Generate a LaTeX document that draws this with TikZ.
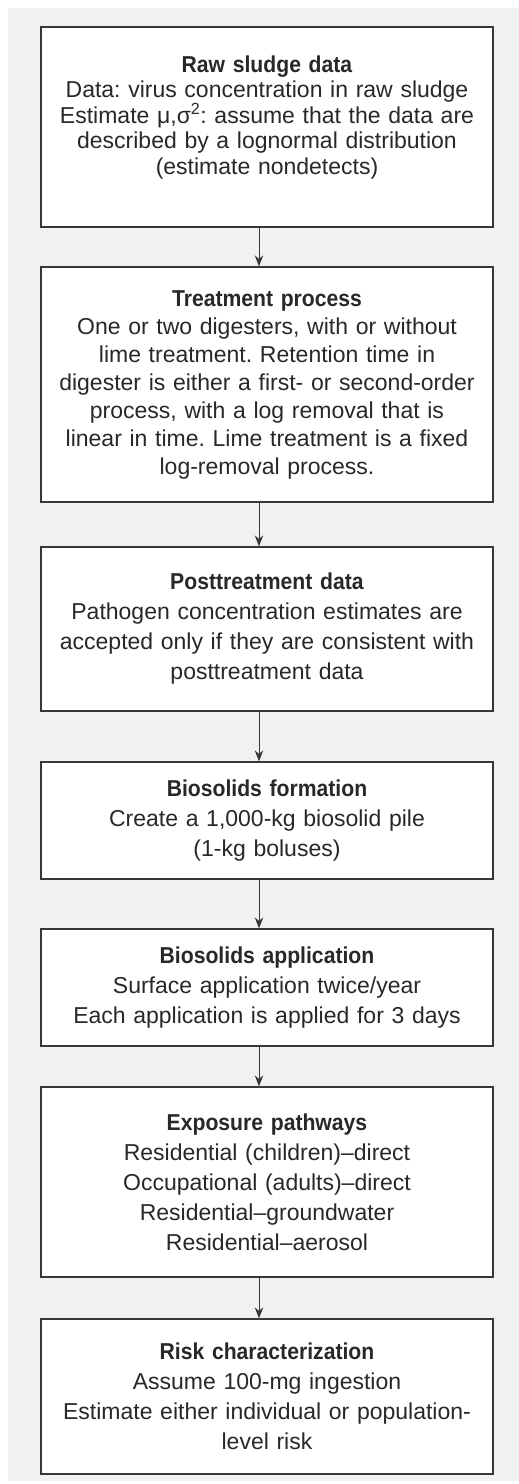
\documentclass[tikz,border=0pt]{standalone}
\usepackage{fontspec}
\setmainfont{Liberation Sans}[WordSpace=1.3,BoldFeatures={FakeStretch=0.92}]
\usetikzlibrary{arrows.meta}
\definecolor{panelgray}{RGB}{241,241,241}
\definecolor{edgegray}{RGB}{55,55,55}
\definecolor{inkgray}{RGB}{40,40,40}
\begin{document}
\frenchspacing
\begin{tikzpicture}[x=1pt,y=-1pt,
  stepbox/.style={draw=edgegray,line width=1.3pt,fill=white,minimum width=452pt,
    text width=444pt,align=center,inner sep=0pt,text=inkgray,
    font=\frenchspacing\fontsize{23}{30}\selectfont},
  tightbox/.style={stepbox,font=\frenchspacing\fontsize{23}{25.5}\selectfont},
  midbox/.style={stepbox,font=\frenchspacing\fontsize{23}{28}\selectfont},
  arr/.style={draw=edgegray,line width=1pt,-{Stealth[length=11pt,width=8.5pt]}}]
\useasboundingbox (0,0) rectangle (519,1484);
\fill[panelgray] (8,8) rectangle (519,1481);
\node[tightbox,minimum height=200pt] (b1) at (267,127)
 {\textbf{Raw sludge data}\\
  Data: virus concentration in raw sludge\\
  Estimate μ,σ\textsuperscript{2}: assume that the data are\\
  described by a lognormal distribution\\
  (estimate nondetects)\rule[-24pt]{0pt}{24pt}};
\node[midbox,minimum height=235pt] (b2) at (267,384.5)
 {\textbf{Treatment process}\\
  One or two digesters, with or without\\
  lime treatment. Retention time in\\
  digester is either a first- or second-order\\
  process, with a log removal that is\\
  linear in time. Lime treatment is a fixed\\
  log-removal process.};
\node[stepbox,minimum height=164pt] (b3) at (267,629)
 {\textbf{Posttreatment data}\\
  Pathogen concentration estimates are\\
  accepted only if they are consistent with\\
  posttreatment data};
\node[stepbox,minimum height=117pt] (b4) at (267,820.5)
 {\textbf{Biosolids formation}\\
  Create a 1,000-kg biosolid pile\\
  (1-kg boluses)};
\node[stepbox,minimum height=117pt] (b5) at (267,987.5)
 {\textbf{Biosolids application}\\
  Surface application twice/year\\
  Each application is applied for 3 days};
\node[stepbox,minimum height=190pt] (b6) at (267,1182)
 {\textbf{Exposure pathways}\\
  Residential (children)–direct\\
  Occupational (adults)–direct\\
  Residential–groundwater\\
  Residential–aerosol};
\node[stepbox,minimum height=155pt] (b7) at (267,1396.5)
 {\textbf{Risk characterization}\\
  Assume 100-mg ingestion\\
  Estimate either individual or population-\\
  level risk};
\foreach \a/\b in {b1/b2,b2/b3,b3/b4,b4/b5,b5/b6,b6/b7}
  \draw[arr] ([xshift=-8pt]\a.south) -- ([xshift=-8pt]\b.north);
\end{tikzpicture}
\end{document}
